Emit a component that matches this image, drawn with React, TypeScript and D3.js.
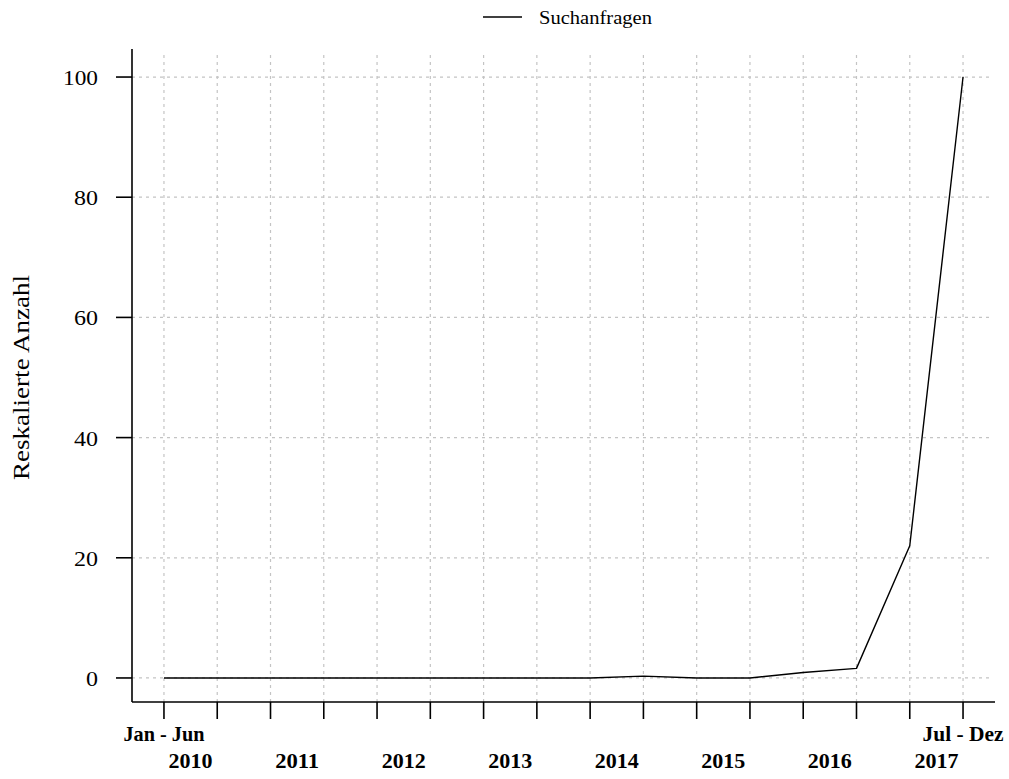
import * as d3 from "d3";

// half-year periods, 2010 H1 .. 2017 H2
const periods = [
  "2010-1", "2010-2", "2011-1", "2011-2", "2012-1", "2012-2", "2013-1", "2013-2",
  "2014-1", "2014-2", "2015-1", "2015-2", "2016-1", "2016-2", "2017-1", "2017-2",
];
const searches = [0, 0, 0, 0, 0, 0, 0, 0, 0, 0.3, 0, 0, 0.9, 1.6, 22, 100];
const years = ["2010", "2011", "2012", "2013", "2014", "2015", "2016", "2017"];
const yTicks = [0, 20, 40, 60, 80, 100];

const W = 1009;
const H = 779;
const font = "Liberation Serif";

export default function App() {
  const n = periods.length;
  // R style: 4% padding on both axes
  const x = d3.scaleLinear().domain([0.4, n + 0.6]).range([132, 995]);
  const y = d3.scaleLinear().domain([-4, 104]).range([702, 53]);

  const line = d3
    .line<number>()
    .x((_, i) => x(i + 1))
    .y((d) => y(d));

  const [x0, x1] = x.range();
  const [y0, y1] = y.range();

  return (
    <svg
      width={W}
      height={H}
      style={{ position: "absolute", left: 0, top: 0, background: "#fff", fontFamily: font }}
    >
      {/* legend */}
      <line x1={483} x2={522} y1={17} y2={17} stroke="#000" strokeWidth={1.3} />
      <text x={539} y={24} fontSize={18} textLength={113} lengthAdjust="spacingAndGlyphs">
        Suchanfragen
      </text>

      {/* grid */}
      {yTicks.map((t) => (
        <line
          key={"gy" + t}
          x1={x0}
          x2={x1 - 5}
          y1={y(t)}
          y2={y(t)}
          stroke="#c4c4c4"
          strokeWidth={1.2}
          strokeDasharray="3,4"
        />
      ))}
      {periods.map((p, i) => (
        <line
          key={"gx" + p}
          x1={x(i + 1)}
          x2={x(i + 1)}
          y1={y0}
          y2={y1}
          stroke="#c4c4c4"
          strokeWidth={1.2}
          strokeDasharray="3,4"
        />
      ))}

      {/* data line */}
      <path d={line(searches) || ""} fill="none" stroke="#000" strokeWidth={1.4} strokeLinejoin="round" />

      {/* axes */}
      <line x1={x0} x2={x0} y1={y0} y2={y1 - 4} stroke="#000" strokeWidth={1.6} />
      <line x1={x0} x2={x1} y1={y0} y2={y0} stroke="#000" strokeWidth={1.6} />
      {yTicks.map((t) => (
        <g key={"ty" + t}>
          <line x1={x0 - 16} x2={x0} y1={y(t)} y2={y(t)} stroke="#000" strokeWidth={1.6} />
          <text
            x={98}
            y={y(t) + 8}
            fontSize={22}
            textAnchor="end"
            textLength={t >= 100 ? 35 : t > 0 ? 24 : 12}
            lengthAdjust="spacingAndGlyphs"
          >
            {t}
          </text>
        </g>
      ))}
      {periods.map((p, i) => (
        <line
          key={"tx" + p}
          x1={x(i + 1)}
          x2={x(i + 1)}
          y1={y0}
          y2={y0 + 17}
          stroke="#000"
          strokeWidth={1.6}
        />
      ))}
      <text x={x(1)} y={741} fontSize={21} fontWeight="bold" textAnchor="middle" textLength={81} lengthAdjust="spacingAndGlyphs">
        Jan - Jun
      </text>
      <text x={x(n)} y={741} fontSize={21} fontWeight="bold" textAnchor="middle" textLength={81} lengthAdjust="spacingAndGlyphs">
        Jul - Dez
      </text>
      {years.map((yr, k) => (
        <text
          key={yr}
          x={(x(2 * k + 1) + x(2 * k + 2)) / 2}
          y={768}
          fontSize={21}
          fontWeight="bold"
          textAnchor="middle"
          textLength={44}
          lengthAdjust="spacingAndGlyphs"
        >
          {yr}
        </text>
      ))}

      {/* y axis title */}
      <text
        transform={`translate(29, ${(y0 + y1) / 2}) rotate(-90)`}
        fontSize={23}
        textAnchor="middle"
        textLength={205}
        lengthAdjust="spacingAndGlyphs"
      >
        Reskalierte Anzahl
      </text>
    </svg>
  );
}
